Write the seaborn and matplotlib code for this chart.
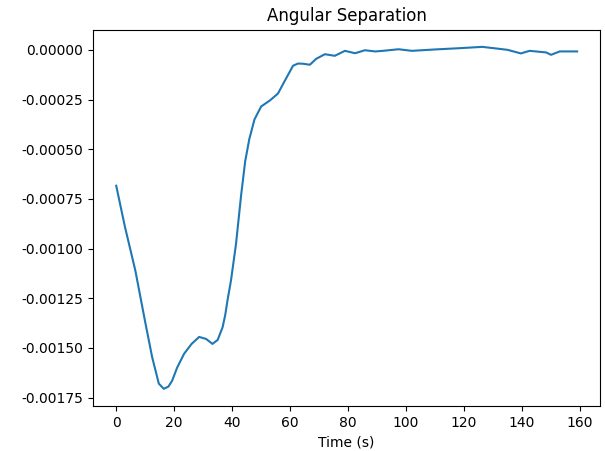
import numpy as np
import pandas as pd
import matplotlib
matplotlib.use("Agg")
import matplotlib.pyplot as plt
import seaborn as sns

# Valeurs
time_s = [0, 3, 6.6, 10, 12.4, 14.7, 16.4, 18, 19.3, 21, 23.4, 26, 28.6, 31,
          33.2, 35, 36.7, 37.6, 38.4, 39.6, 41.3, 43.1, 44.5, 45.9, 47.7, 50,
          53, 55.8, 58, 61, 62.7, 64.5, 66.8, 69, 72, 75.4, 78.9, 82.4, 85.8,
          89.3, 92, 97.4, 102, 110, 118, 126.3, 131, 135, 139.6, 142.6, 148.3,
          150, 153, 159]
sep_e4 = [-6.84, -8.9, -11.11, -13.7, -15.47, -16.8, -17.06, -16.95, -16.65,
          -16.0, -15.3, -14.8, -14.45, -14.55, -14.8, -14.6, -13.96, -13.35,
          -12.6, -11.6, -9.8, -7.3, -5.6, -4.5, -3.5, -2.85, -2.55, -2.2, -1.6,
          -0.8, -0.69, -0.7, -0.75, -0.45, -0.22, -0.3, -0.05, -0.17, -0.02,
          -0.08, -0.05, 0.03, -0.05, 0.02, 0.08, 0.15, 0.07, 0.0, -0.18, -0.05,
          -0.13, -0.25, -0.08, -0.08]

df = pd.DataFrame({'Time (s)': time_s, 'sep': np.array(sep_e4) * 1e-4})

plt.rcParams['axes.unicode_minus'] = False
fig, ax = plt.subplots(figsize=(6.05, 4.51), dpi=100)
sns.lineplot(data=df, x='Time (s)', y='sep', ax=ax, color='#1f77b4', linewidth=1.5)
ax.set_ylabel('')
ax.set_title('Angular Separation')
ax.set_xticks(np.arange(0, 161, 20))
fig.subplots_adjust(left=0.154, right=0.992, top=0.934, bottom=0.1)
fig.savefig('out.png', dpi=100)
